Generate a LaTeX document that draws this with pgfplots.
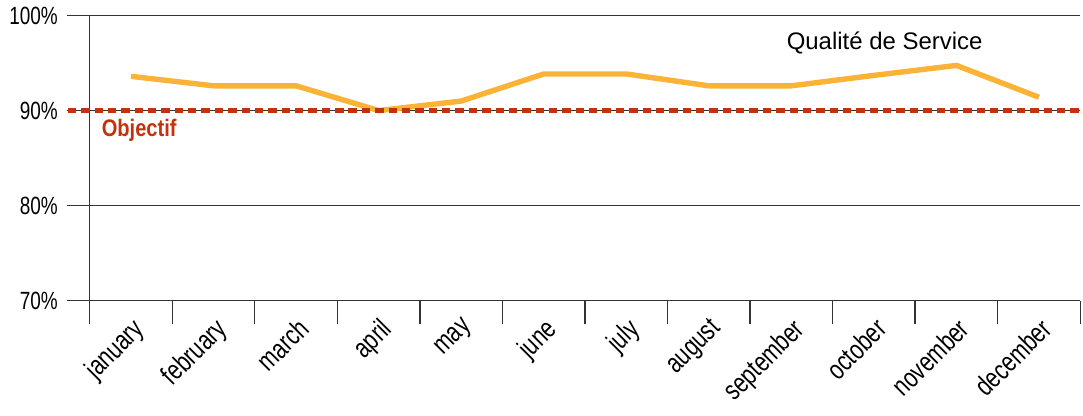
\documentclass[border=0pt]{standalone}
\usepackage{fontspec}
\setmainfont{Liberation Sans}
\newfontfamily\condfont{Liberation Sans}[FakeStretch=0.76]
\newfontfamily\condbold{Liberation Sans Bold}[FakeStretch=0.84]
\usepackage{pgfplots}
\pgfplotsset{compat=1.18}
\definecolor{qsorange}{HTML}{FBB337}
\definecolor{objred}{HTML}{C4310F}
\definecolor{axgray}{HTML}{333333}

\begin{document}
\begin{tikzpicture}
\begin{axis}[
    scale only axis,
    width=496.5pt, height=143pt,
    xmin=-0.5, xmax=11.5,
    ymin=70, ymax=100,
    axis x line*=bottom, axis y line*=left,
    axis line style={-, axgray, line width=0.65pt},
    xtick={-0.5,0.5,...,11.5},
    x tick label as interval,
    xticklabels={january,february,march,april,may,june,july,august,september,october,november,december},
    ytick={70,80,90,100},
    yticklabels={70\%,80\%,90\%,100\%},
    ymajorgrids,
    grid style={axgray, line width=0.65pt},
    tick align=outside,
    major tick length=11.5pt,
    tick style={axgray, line width=0.65pt},
    yticklabel style={font=\condfont\fontsize{12.5}{14}\selectfont, xshift=-1pt},
    xticklabel style={font=\condfont\fontsize{14}{16}\selectfont,
        yshift=8.5pt, rotate=45, anchor=north east},
    clip=false,
]
% quality of service
\addplot[qsorange, line width=2.7pt, line join=miter] coordinates {
    (0,93.6) (1,92.6) (2,92.6) (3,90.0) (4,91.0) (5,93.85)
    (6,93.85) (7,92.6) (8,92.6) (9,93.7) (10,94.75) (11,91.4)
};
% target
\addplot[objred, line width=2.8pt, dash pattern=on 4.2pt off 2.5pt] coordinates {
    (-0.766,90) (11.5,90)
};
\node[anchor=west, text=objred, font=\condbold\fontsize{12}{14}\selectfont]
    at (axis cs:-0.44,87.9) {Objectif};
\node[font=\fontsize{12}{14}\selectfont] at (axis cs:9.13,97.1) {Qualité de Service};
\path ([xshift=-45pt]rel axis cs:0,1);
\end{axis}
\end{tikzpicture}
\end{document}
